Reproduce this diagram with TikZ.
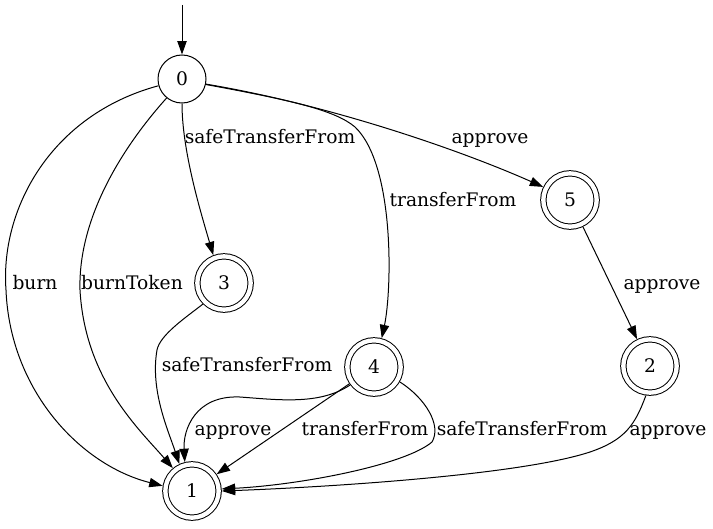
\documentclass[tikz,border=0pt]{standalone}
\usepackage{fontspec}
\setmainfont{DejaVu Serif}
\usetikzlibrary{arrows.meta}

\begin{document}
\begin{tikzpicture}[x=0.75pt, y=-0.75pt, line width=0.75pt, font=\fontsize{14}{16}\selectfont,
	state/.style={circle, draw, minimum size=36pt, inner sep=0pt, outer sep=0.4pt},
	accepting/.style={state, double, double distance=3.25pt, minimum size=40pt, outer sep=2.4pt},
	lbl/.style={inner sep=0pt, text height=10pt, text depth=3pt, yshift=-1.5pt},
	trans/.style={-{Triangle[length=10pt, width=7pt]}}]
	\useasboundingbox (0,0) rectangle (713,528);
	\node[state] (n0) at (182,79) {0};
	\node[accepting] (n1) at (192,491) {1};
	\node[accepting] (n2) at (650,366) {2};
	\node[accepting] (n3) at (224,283) {3};
	\node[accepting] (n4) at (374,367) {4};
	\node[accepting] (n5) at (570,200) {5};
	\coordinate (init) at (182,5);
	\draw[trans] (init) -- (n0);
	\draw[trans] (n0.196) .. controls (50,115) and (0,210) .. (6,290) .. controls (10,390) and (80,465) .. (n1.170);
	\draw[trans] (n0.231) .. controls (120,150) and (78,220) .. (80,290) .. controls (85,380) and (140,430) .. (n1.130);
	\draw[trans] (n0.south) .. controls (182,150) and (200,210) .. (n3.111);
	\draw[trans] (n0.-13) .. controls (290,100) and (335,110) .. (355,127) .. controls (395,165) and (392,290) .. (n4.75);
	\draw[trans] (n0.-12) .. controls (330,105) and (460,150) .. (n5.154);
	\draw[trans] (n5) -- (n2);
	\draw[trans] (n3.225) .. controls (185,318) and (160,335) .. (157,350) .. controls (150,390) and (168,430) .. (n1.115);
	\draw[trans] (n4.217) .. controls (320,405) and (280,400) .. (240,397) .. controls (195,395) and (183,430) .. (n1.104);
	\draw[trans] (n4) -- (n1);
	\draw[trans] (n4.-30) .. controls (425,398) and (442,425) .. (432,442) .. controls (405,465) and (300,485) .. (n1.4);
	\draw[trans] (n2.262) .. controls (635,425) and (625,440) .. (590,452) .. controls (520,475) and (330,487) .. (n1.0);
	\node[lbl] (lburn) at (35,283) {burn};
	\node[lbl] (ltoken) at (132,283) {burnToken};
	\node[lbl] (lsafe03) at (270,137) {safeTransferFrom};
	\node[lbl] (lappr05) at (490,137) {approve};
	\node[lbl] (ltrans04) at (453,200) {transferFrom};
	\node[lbl] (lappr52) at (662,283) {approve};
	\node[lbl] (lsafe31) at (247,365) {safeTransferFrom};
	\node[lbl] (lappr41) at (233,429) {approve};
	\node[lbl] (ltrans41) at (365,429) {transferFrom};
	\node[lbl] (lsafe41) at (522,429) {safeTransferFrom};
	\node[lbl] (lappr21) at (668,429) {approve};
\end{tikzpicture}
\end{document}
